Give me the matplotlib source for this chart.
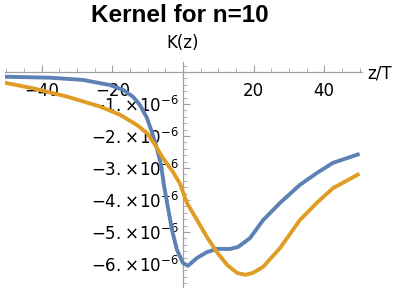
import numpy as np
import matplotlib
matplotlib.use("Agg")
import matplotlib.pyplot as plt
from matplotlib.ticker import FixedLocator, MultipleLocator

# values, K in units of 1e-6
zb = [-50.4, -37.7, -28.3, -20.7, -17.0, -14.2, -12.2, -10.2, -8.8, -7.4, -6.2, -5.4,
      -4.5, -3.1, -1.7, 0.0, 1.4, 4.0, 6.8, 9.6, 13.3, 15.6, 19.0, 22.7, 27.5, 33.1,
      37.9, 42.5, 49.5]
kb = [-0.15, -0.18, -0.25, -0.41, -0.56, -0.77, -1.03, -1.44, -1.88, -2.38, -2.91, -3.53,
      -4.09, -4.94, -5.56, -5.97, -6.06, -5.81, -5.63, -5.53, -5.53, -5.47, -5.19, -4.63,
      -4.09, -3.53, -3.16, -2.84, -2.58]
zo = [-50.4, -42.5, -32.9, -23.5, -17.8, -13.0, -10.2, -7.9, -5.7, -2.8, -0.8, 1.1,
      4.0, 6.8, 9.6, 12.5, 15.3, 17.6, 19.8, 22.7, 27.5, 33.1, 37.9, 42.5, 49.5]
ko = [-0.34, -0.51, -0.77, -1.08, -1.34, -1.66, -1.91, -2.28, -2.69, -3.13, -3.5, -4.09,
      -4.63, -5.16, -5.63, -6.03, -6.28, -6.34, -6.28, -6.09, -5.5, -4.63, -4.09, -3.63,
      -3.21]

xticks = [-40, -20, 20, 40]
yticks = [-1, -2, -3, -4, -5, -6]

plt.rcParams["mathtext.fontset"] = "dejavusans"
fig = plt.figure(figsize=(4.09, 2.88), dpi=100)
ax = fig.add_axes([5/409, 1/288, 357/409, 225/288])

ax.plot(zb, np.array(kb)*1e-6, color="#5E81B5", lw=2.8, zorder=3)
ax.plot(zo, np.array(ko)*1e-6, color="#E19C24", lw=2.8, zorder=3)

ax.set_xlim(-50.4, 50.7)
ax.set_ylim(-6.72e-6, 0.31e-6)

for s in ["top", "right"]:
    ax.spines[s].set_visible(False)
ax.spines["left"].set_position(("data", 0))
ax.spines["bottom"].set_position(("data", 0))
for s in ["left", "bottom"]:
    ax.spines[s].set_color("#a0a0a0")
    ax.spines[s].set_linewidth(0.9)

ax.xaxis.set_major_locator(FixedLocator(xticks))
ax.xaxis.set_minor_locator(MultipleLocator(5))
ax.set_xticklabels(["\u2212" + str(-t) if t < 0 else str(t) for t in xticks])
ax.yaxis.set_major_locator(FixedLocator([t*1e-6 for t in yticks]))
ax.yaxis.set_minor_locator(MultipleLocator(0.2e-6))
ax.set_yticklabels([r"$-%d.\!\times\!10^{-6}$" % (-t) for t in yticks])

ax.tick_params(which="both", direction="in", color="#a0a0a0", labelsize=12)
ax.tick_params(which="major", length=5, width=0.8)
ax.tick_params(which="minor", length=3, width=0.6)
ax.tick_params(axis="x", pad=7)
ax.tick_params(axis="y", pad=3)
ax.patch.set_alpha(0)

fig.text(180/409, 1-16/288, "Kernel for n=10", ha="center", va="center",
         fontsize=17.5, fontweight="bold", family="Liberation Sans")
fig.text(183/409, 1-43/288, "K(z)", ha="center", va="center", fontsize=12)
fig.text(367/409, 1-73/288, "z/T", ha="left", va="center", fontsize=12)

fig.savefig("out.png", dpi=100)
